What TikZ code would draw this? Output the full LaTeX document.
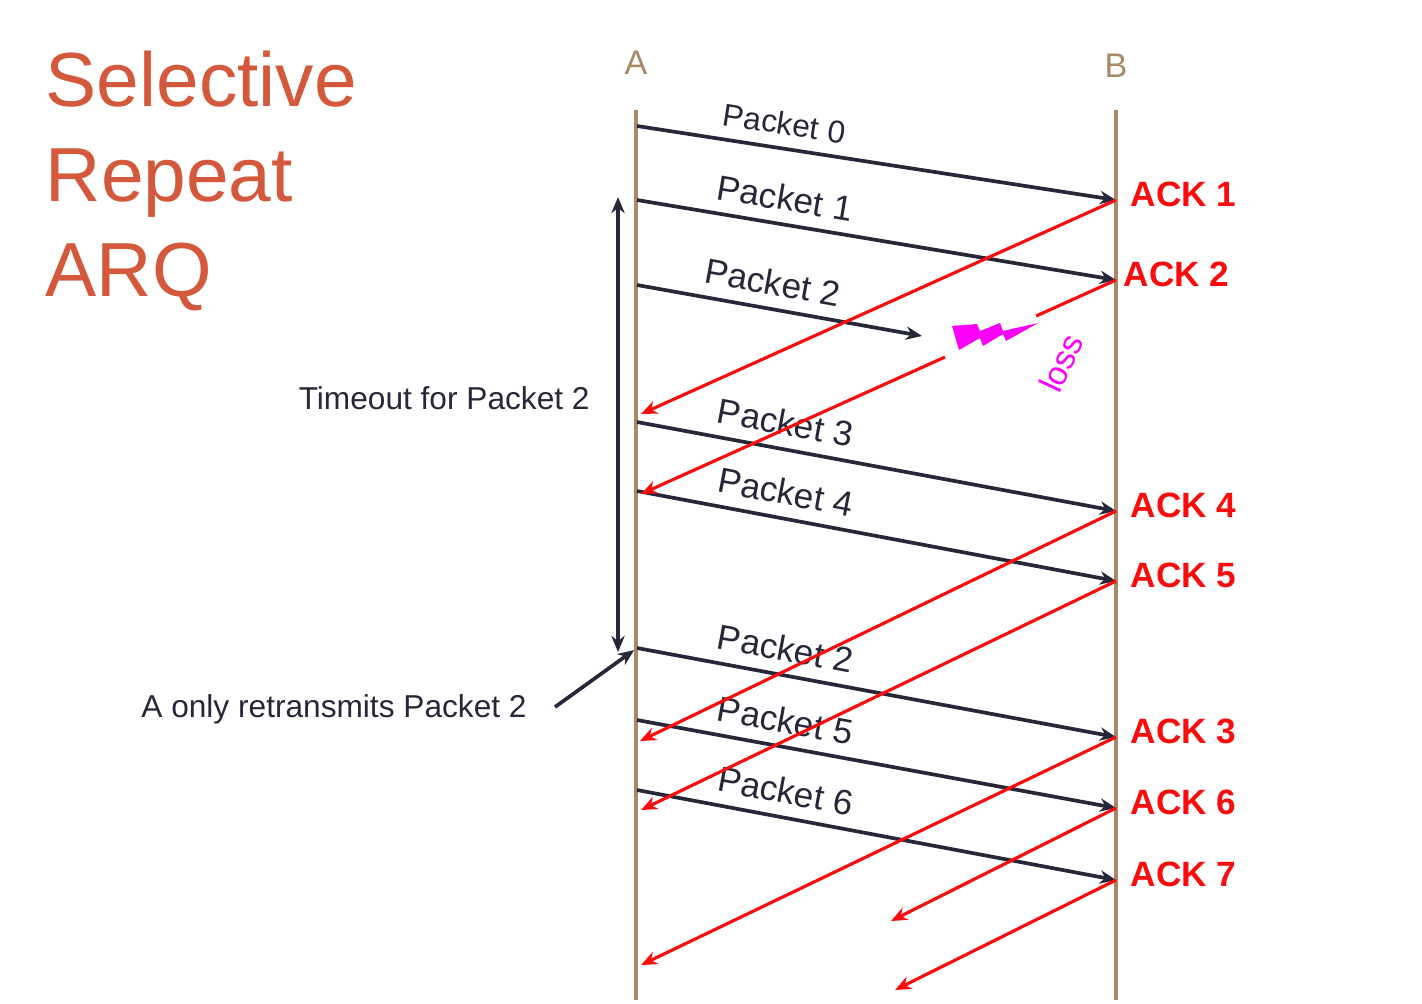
\documentclass[tikz,border=0pt]{standalone}
\usepackage{xcolor}
\usepackage{fontspec}
\setmainfont{Liberation Sans}
\usepackage{tikz}
\usetikzlibrary{positioning,arrows.meta,calc}
\definecolor{srtitle}{RGB}{212,88,60}
\definecolor{srdark}{RGB}{38,40,58}
\definecolor{srtan}{RGB}{168,138,102}
\definecolor{srred}{RGB}{250,12,12}
\definecolor{srmag}{RGB}{250,0,250}

\begin{document}
\begin{tikzpicture}[x=0.01cm, y=-0.01cm,
        lifeline/.style={draw=srtan, line width=1.2pt},
        packet/.style={draw=srdark, line width=1.05pt, -{Stealth[length=4.6pt, width=3.8pt]}},
        ack/.style={draw=srred, line width=0.9pt, -{Stealth[length=4.6pt, width=3.8pt]}},
        pktlabel/.style={sloped, above, pos=0.30, text=srdark, font=\fontsize{10}{12}\selectfont},
        acklabel/.style={right=3pt of #1, yshift=1.5pt, inner sep=1pt, text=srred, font=\bfseries\fontsize{10}{12}\selectfont},
        hostlabel/.style={text=srtan, font=\fontsize{9.7}{12}\selectfont},
        titleline/.style={anchor=base west, inner sep=0pt, text=srtitle, font=\fontsize{21.8}{27}\selectfont},
        note/.style={text=srdark, font=\fontsize{9}{11}\selectfont}]
        \useasboundingbox (0,0) rectangle (1422,1003);

        % title
        \node[titleline] (title1) at (45,106) {Selective};
        \node[titleline] (title2) at (45,201) {Repeat};
        \node[titleline] (title3) at (45,296) {ARQ};

        % hosts
        \node[hostlabel] (hostA) at (636,63) {A};
        \node[hostlabel] (hostB) at (1116,66) {B};
        \coordinate (Atop) at (636,110);
        \coordinate (Abot) at (636,1000);
        \coordinate (Btop) at (1116,110);
        \coordinate (Bbot) at (1116,1000);
        \draw[lifeline] (Atop) -- (Abot);
        \draw[lifeline] (Btop) -- (Bbot);

        % packets
        \coordinate (a0) at (637,126);  \coordinate (b0) at (1116,200);
        \coordinate (a1) at (637,200);  \coordinate (b1) at (1116,280);
        \coordinate (a2) at (637,285);  \coordinate (lost) at (922,336);
        \coordinate (a3) at (637,422);  \coordinate (b3) at (1116,511);
        \coordinate (a4) at (637,491);  \coordinate (b4) at (1116,581);
        \coordinate (a2r) at (637,648); \coordinate (b2r) at (1116,737);
        \coordinate (a5) at (637,720);  \coordinate (b5) at (1116,808);
        \coordinate (a6) at (637,790);  \coordinate (b6) at (1116,880);

        \draw[packet] (a0) -- node[pktlabel, font=\fontsize{9}{11}\selectfont] {Packet 0} (b0);
        \draw[packet] (a1) -- node[pktlabel] {Packet 1} (b1);
        \draw[packet] (a2) -- node[pktlabel, pos=0.46] {Packet 2} (lost);
        \draw[packet] (a3) -- node[pktlabel] {Packet 3} (b3);
        \draw[packet] (a4) -- node[pktlabel] {Packet 4} (b4);
        \draw[packet] (a2r) -- node[pktlabel] {Packet 2} (b2r);
        \draw[packet] (a5) -- node[pktlabel] {Packet 5} (b5);
        \draw[packet] (a6) -- node[pktlabel] {Packet 6} (b6);

        % acks
        \coordinate (ack1end) at (641,414);
        \coordinate (ack2end) at (641,494);
        \coordinate (ack4end) at (640,741);
        \coordinate (ack5end) at (641,810);
        \coordinate (ack3end) at (641,965);
        \coordinate (ack6end) at (891,921);
        \coordinate (ack7end) at (895,990);
        \coordinate (gapstart) at ($(b1)!0.168!(ack2end)$);
        \coordinate (gapend) at ($(b1)!0.36!(ack2end)$);

        \draw[ack] (b0) -- (ack1end);
        \draw[ack, -] (b1) -- (gapstart);
        \draw[ack] (gapend) -- (ack2end);
        \draw[ack] (b3) -- (ack4end);
        \draw[ack] (b4) -- (ack5end);
        \draw[ack] (b2r) -- (ack3end);
        \draw[ack] (b5) -- (ack6end);
        \draw[ack] (b6) -- (ack7end);

        \node[acklabel=b0] (ack1) {ACK 1};
        \node[acklabel=b1, xshift=-2pt] (ack2) {ACK 2};
        \node[acklabel=b3] (ack4) {ACK 4};
        \node[acklabel=b4] (ack5) {ACK 5};
        \node[acklabel=b2r] (ack3) {ACK 3};
        \node[acklabel=b5] (ack6) {ACK 6};
        \node[acklabel=b6] (ack7) {ACK 7};

        % loss
        \fill[srmag] (952,326) -- (977,324) -- (980,331) -- (1000,323) -- (1003,331) -- (1038,323)
            -- (1006,341) -- (1003,334) -- (983,346) -- (980,338) -- (959,350) -- cycle;
        \node[text=srmag, rotate=65, inner sep=0pt, font=\fontsize{9.5}{11}\selectfont] (losslbl) at (1061,363) {loss};

        % timeout
        \coordinate (ttop) at (618,197);
        \coordinate (tbot) at (618,652);
        \draw[packet, {Stealth[length=4.6pt, width=3.8pt]}-{Stealth[length=4.6pt, width=3.8pt]}] (ttop) -- (tbot);
        \node[note, anchor=east] (timeoutlbl) at (602,398) {Timeout for Packet 2};

        % retransmission note
        \node[note] (retxlbl) at (334,709) {A only retransmits Packet 2};
        \coordinate (retxfrom) at (555,707);
        \draw[packet, shorten >=1pt] (retxfrom) -- (a2r);
    \end{tikzpicture}
\end{document}
